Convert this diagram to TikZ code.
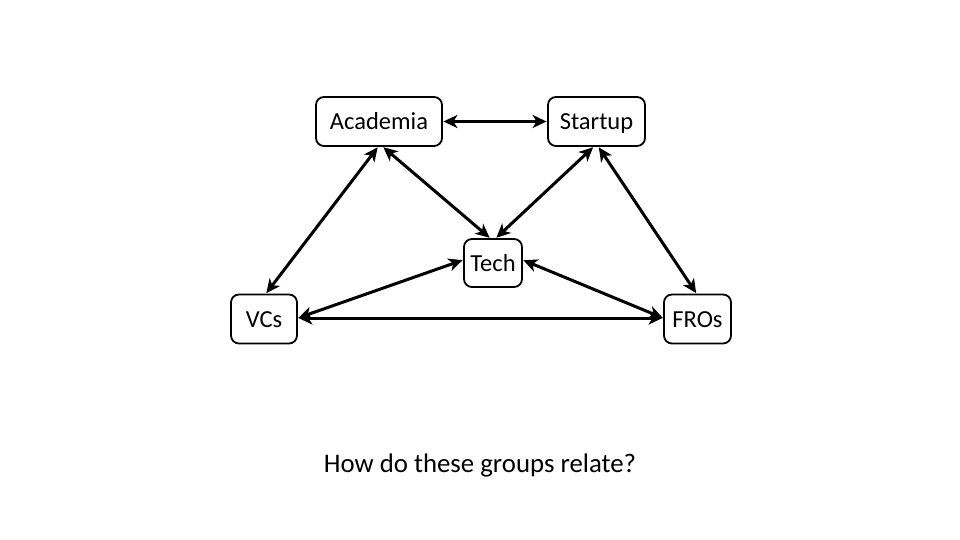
\documentclass[tikz,border=0pt]{standalone}
\usepackage{fontspec}
\setmainfont{Carlito}
\usetikzlibrary{arrows.meta}
\begin{document}
\begin{tikzpicture}[x=1pt,y=-1pt,
  box/.style={draw, line width=1.8pt, rounded corners=8pt, inner sep=0pt, minimum height=49pt, text height=19pt, text depth=2pt, font=\fontsize{24.5}{28}\selectfont},
  link/.style={line width=3pt, {Stealth[length=14pt,width=13pt,inset=4pt]}-{Stealth[length=14pt,width=13pt,inset=4pt]}, shorten <=0.5pt, shorten >=0.5pt}]
\useasboundingbox (0,0) rectangle (960,540);
\node[box, minimum width=126pt] (acad) at (379,121.5) {Academia};
\node[box, minimum width=97pt] (start) at (596.5,121.5) {Startup};
\node[box, minimum width=58pt, minimum height=48pt] (tech) at (493,263) {Tech};
\node[box, minimum width=66pt] (vcs) at (264,319) {VCs};
\node[box, minimum width=67pt] (fros) at (697.5,319) {FROs};
\node[font=\fontsize{26.8}{30}\selectfont] (q) at (480,465) {How do these groups relate?};
\draw[link] (acad.east) -- (start.west);
\draw[link] ([xshift=-1pt]acad.south) -- ([xshift=2pt]vcs.north);
\draw[link] ([xshift=4pt]acad.south) -- ([xshift=-3pt]tech.north);
\draw[link] ([xshift=-3pt]start.south) -- ([xshift=3pt]tech.north);
\draw[link] ([xshift=2pt]start.south) -- ([xshift=-1pt]fros.north);
\draw[link] ([yshift=1pt]vcs.east) -- ([yshift=3pt]tech.west);
\draw[link] ([yshift=3pt]tech.east) -- ([yshift=1pt]fros.west);
\draw[link] ([yshift=1pt]vcs.east) -- ([yshift=1pt]fros.west);
\end{tikzpicture}
\end{document}
